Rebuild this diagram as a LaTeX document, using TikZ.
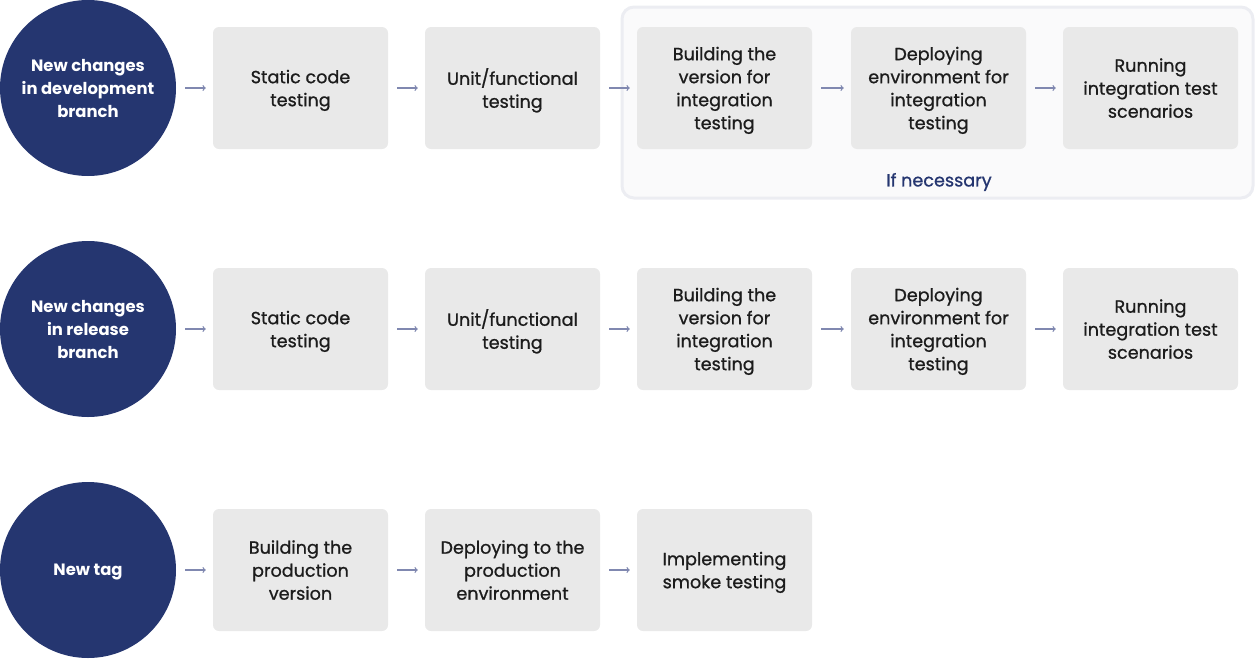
\documentclass[tikz,border=0pt]{standalone}
\usepackage{fontspec}
\setmainfont{Poppins}
\newfontfamily\stagefont[FakeBold=0.9]{Poppins}
\definecolor{navy}{HTML}{253670}
\definecolor{boxgray}{HTML}{E9E9E9}
\definecolor{framegray}{HTML}{ECEDF2}
\definecolor{framefill}{HTML}{FAFAFB}
\definecolor{arrowblue}{HTML}{8088B0}
\definecolor{ink}{HTML}{1C1C1C}
\begin{document}
\begin{tikzpicture}
			[x=1pt,y=-1pt,
			start/.style={circle,fill=navy,text=white,minimum size=176pt,inner sep=0pt,align=center,text depth=-2pt,font=\fontsize{16.4}{23}\selectfont\bfseries},
			stage/.style={rectangle,rounded corners=6pt,fill=boxgray,text=ink,minimum width=175pt,minimum height=122pt,align=center,text depth=-1.5pt,font=\fontsize{17.6}{23}\stagefont},
			flow/.style={->,arrowblue,line width=1.2pt,shorten <=9pt,shorten >=7pt},>=to]
			\useasboundingbox (0,0) rectangle (1256,659);
			% optional integration part
			\node[rectangle,rounded corners=12pt,draw=framegray,line width=3pt,fill=framefill,minimum width=631pt,minimum height=191pt,name=opt]at(937.5,102.5){};
			\node[text=navy,font=\fontsize{17.6}{23}\stagefont,name=optlabel]at(939,182){If necessary};
			% development branch
			\node[start,name=d0]at(88,88){New changes\\in development\\branch};
			\node[stage,name=d1]at(300.5,88){Static code\\testing};
			\node[stage,name=d2]at(512.5,88){Unit/functional\\testing};
			\node[stage,name=d3]at(724.5,88){Building the\\version for\\integration\\testing};
			\node[stage,name=d4]at(938.5,88){Deploying\\environment for\\integration\\testing};
			\node[stage,name=d5]at(1150.5,88){Running\\integration test\\scenarios};
			\draw[flow] (d0)--(d1);
			\draw[flow] (d1)--(d2);
			\draw[flow] (d2)--(d3);
			\draw[flow] (d3)--(d4);
			\draw[flow] (d4)--(d5);
			% release branch
			\node[start,name=r0]at(88,329){New changes\\in release\\branch};
			\node[stage,name=r1]at(300.5,329){Static code\\testing};
			\node[stage,name=r2]at(512.5,329){Unit/functional\\testing};
			\node[stage,name=r3]at(724.5,329){Building the\\version for\\integration\\testing};
			\node[stage,name=r4]at(938.5,329){Deploying\\environment for\\integration\\testing};
			\node[stage,name=r5]at(1150.5,329){Running\\integration test\\scenarios};
			\draw[flow] (r0)--(r1);
			\draw[flow] (r1)--(r2);
			\draw[flow] (r2)--(r3);
			\draw[flow] (r3)--(r4);
			\draw[flow] (r4)--(r5);
			% tag
			\node[start,name=t0]at(88,570){New tag};
			\node[stage,name=t1]at(300.5,570){Building the\\production\\version};
			\node[stage,name=t2]at(512.5,570){Deploying to the\\production\\environment};
			\node[stage,name=t3]at(724.5,570){Implementing\\smoke testing};
			\draw[flow] (t0)--(t1);
			\draw[flow] (t1)--(t2);
			\draw[flow] (t2)--(t3);
		\end{tikzpicture}
\end{document}
